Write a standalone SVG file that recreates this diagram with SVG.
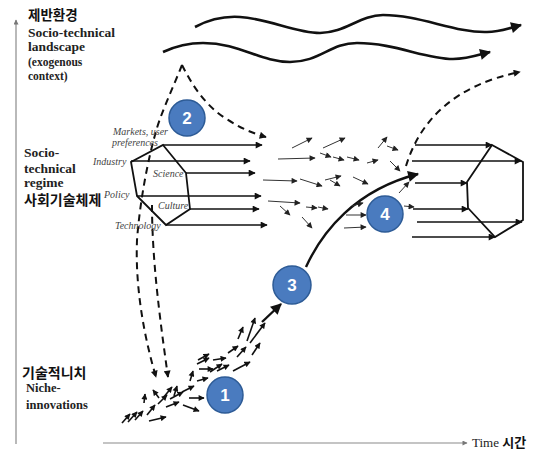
<svg xmlns="http://www.w3.org/2000/svg" width="540" height="454" viewBox="0 0 540 454">
<style>
.ax{stroke:#8a8a8a;stroke-width:1.2;fill:none}
.wave{stroke:#111;stroke-width:2.6;fill:none}
.dash{stroke:#111;stroke-width:2;fill:none;stroke-dasharray:7,5}
.hex{stroke:#111;stroke-width:1.8;fill:none}
.ha{stroke:#111;stroke-width:1.5;fill:none}
.na{stroke:#111;stroke-width:1.6;fill:none}
.ma{stroke:#333;stroke-width:1;fill:none}
.traj{stroke:#111;stroke-width:2.4;fill:none}
.circ{fill:#4a7bbf;stroke:#2d5b96;stroke-width:1.5}
.num{font-family:'Liberation Sans',Arial,sans-serif;font-weight:bold;font-size:17px;fill:#fff;text-anchor:middle}
.en{font-family:'Liberation Serif',serif;font-weight:bold;fill:#222}
.ko{font-family:'Noto Sans CJK KR','Noto Sans',sans-serif;font-weight:bold;fill:#111}
.lb{font-family:'Liberation Serif',serif;font-style:italic;font-size:10px;fill:#444}
</style>
<defs>
<marker id="a" viewBox="0 0 10 10" refX="9" refY="5" markerWidth="7" markerHeight="6" markerUnits="userSpaceOnUse" orient="auto"><path d="M0,0 L10,5 L0,10 z" fill="#111"/></marker>
<marker id="m" viewBox="0 0 10 10" refX="9" refY="5" markerWidth="7" markerHeight="6" markerUnits="userSpaceOnUse" orient="auto"><path d="M0,0 L10,5 L0,10 z" fill="#222"/></marker>
<marker id="b" viewBox="0 0 10 10" refX="9" refY="5" markerWidth="9" markerHeight="7" markerUnits="userSpaceOnUse" orient="auto"><path d="M0,0 L10,5 L0,10 z" fill="#111"/></marker>
<marker id="c" viewBox="0 0 10 10" refX="9" refY="5" markerWidth="13" markerHeight="11" markerUnits="userSpaceOnUse" orient="auto"><path d="M0,0 L10,5 L0,10 z" fill="#111"/></marker>
<marker id="t" viewBox="0 0 10 10" refX="9" refY="5" markerWidth="6" markerHeight="5" markerUnits="userSpaceOnUse" orient="auto"><path d="M0,0 L10,5 L0,10 z" fill="#777"/></marker>
</defs>

<g id="axes">
<path class="ax" d="M16,444 L16,20" marker-end="url(#t)"/>
<path class="ax" d="M103,443 L467,443" marker-end="url(#t)"/>
</g>

<g id="labels">
<text class="ko" x="28" y="20" font-size="13.5">제반환경</text>
<text class="en" x="28" y="37" font-size="13.5">Socio-technical</text>
<text class="en" x="28" y="51" font-size="13.5">landscape</text>
<text class="en" x="28" y="66" font-size="11.5">(exogenous</text>
<text class="en" x="28" y="80" font-size="11.5">context)</text>
<text class="en" x="24" y="157" font-size="13.5">Socio-</text>
<text class="en" x="24" y="173" font-size="13.5">technical</text>
<text class="en" x="24" y="187" font-size="13.5">regime</text>
<text class="ko" x="24" y="205" font-size="14">사회기술체제</text>
<text class="ko" x="22" y="378" font-size="14">기술적니치</text>
<text class="en" x="26" y="392" font-size="12.5">Niche-</text>
<text class="en" x="26" y="409" font-size="12.5">innovations</text>
<text x="472" y="447" font-family="'Liberation Serif',serif" font-size="13" fill="#222">Time <tspan class="ko" font-size="13">시간</tspan></text>
</g>

<g id="landscape">
<path class="wave" d="M195,27 C210,19 225,16 240,17 C270,19 295,33 320,33 C345,33 360,15 383,15 C420,15 455,33 487,32 C500,32 510,28 521,25" marker-end="url(#c)"/>
<path class="wave" d="M163,52 C178,45 190,43 203,43 C240,43 260,62 290,62 C320,62 330,43 357,43 C395,43 425,59 453,59 C468,59 478,55 490,52" marker-end="url(#c)"/>
</g>

<g id="connectors">
<path class="dash" d="M182,65 C192,85 205,105 225,118 C240,128 252,133 266,137" marker-end="url(#b)"/>
<path class="dash" d="M182,65 C172,90 160,115 155,135 C148,160 140,200 137,240 C135,290 145,340 156,377" marker-end="url(#b)"/>
<path class="dash" d="M152,205 C152,260 160,320 168,377" marker-end="url(#b)"/>
<path class="dash" d="M406,166 C420,120 455,85 520,72" marker-end="url(#b)"/>
<path class="traj" d="M306,267 C322,232 355,190 418,174" marker-end="url(#c)"/>
<path class="traj" d="M262,322 L281,304" marker-end="url(#c)"/>
</g>

<g id="regime-old">
<polygon class="hex" points="163,145 186,173 190,209 166,225 137,196 131,162"/>
<path class="ha" d="M163,145 L262,145" marker-end="url(#b)"/>
<path class="ha" d="M131,161 L250,161" marker-end="url(#b)"/>
<path class="ha" d="M186,173 L255,173" marker-end="url(#b)"/>
<path class="ha" d="M137,196 L261,196" marker-end="url(#b)"/>
<path class="ha" d="M190,209 L259,209" marker-end="url(#b)"/>
<path class="ha" d="M166,225 L267,225" marker-end="url(#b)"/>
<text class="lb" x="113" y="135">Markets, user</text>
<text class="lb" x="112" y="146">preferences</text>
<text class="lb" x="93" y="165">Industry</text>
<text class="lb" x="153" y="177">Science</text>
<text class="lb" x="104" y="198">Policy</text>
<text class="lb" x="158" y="209">Culture</text>
<text class="lb" x="115" y="229">Technology</text>
</g>

<g id="regime-new">
<polygon class="hex" points="492,145 523,162 523,220 495,237 468,208 467,182"/>
<path class="ha" d="M415,145 L492,145" marker-end="url(#b)"/>
<path class="ha" d="M412,161 L521,161" marker-end="url(#b)"/>
<path class="ha" d="M415,183 L467,183" marker-end="url(#b)"/>
<path class="ha" d="M413,209 L468,209" marker-end="url(#b)"/>
<path class="ha" d="M417,222 L522,222" marker-end="url(#b)"/>
<path class="ha" d="M412,237 L495,237" marker-end="url(#b)"/>
</g>

<g id="niche-arrows">
<path class="na" d="M122,423 L130,414" marker-end="url(#a)"/>
<path class="na" d="M128,422 L137,412" marker-end="url(#a)"/>
<path class="na" d="M135,420 L143,411" marker-end="url(#a)"/>
<path class="na" d="M149,421 L166,417" marker-end="url(#a)"/>
<path class="na" d="M147,415 L155,405" marker-end="url(#a)"/>
<path class="na" d="M144,403 L145,394" marker-end="url(#a)"/>
<path class="na" d="M159,398 L153,390" marker-end="url(#a)"/>
<path class="na" d="M158,404 L167,395" marker-end="url(#a)"/>
<path class="na" d="M163,398 L172,387" marker-end="url(#a)"/>
<path class="na" d="M166,407 L179,402" marker-end="url(#a)"/>
<path class="na" d="M174,396 L177,386" marker-end="url(#a)"/>
<path class="na" d="M170,399 L183,392" marker-end="url(#a)"/>
<path class="na" d="M182,392 L194,386" marker-end="url(#a)"/>
<path class="na" d="M183,405 L199,411" marker-end="url(#a)"/>
<path class="na" d="M189,398 L204,398" marker-end="url(#a)"/>
<path class="na" d="M190,381 L193,371" marker-end="url(#a)"/>
<path class="na" d="M197,381 L208,378" marker-end="url(#a)"/>
<path class="na" d="M197,364 L209,358" marker-end="url(#a)"/>
<path class="na" d="M199,369 L213,369" marker-end="url(#a)"/>
<path class="na" d="M210,372 L222,364" marker-end="url(#a)"/>
<path class="na" d="M198,360 L209,354" marker-end="url(#a)"/>
<path class="na" d="M213,360 L226,358" marker-end="url(#a)"/>
<path class="na" d="M217,371 L229,365" marker-end="url(#a)"/>
<path class="na" d="M228,353 L238,346" marker-end="url(#a)"/>
<path class="na" d="M233,371 L250,362" marker-end="url(#a)"/>
<path class="na" d="M237,357 L246,347" marker-end="url(#a)"/>
<path class="na" d="M238,339 L243,327" marker-end="url(#a)"/>
<path class="na" d="M247,341 L255,318" marker-end="url(#a)"/>
<path class="na" d="M250,343 L265,323" marker-end="url(#a)"/>
<path class="na" d="M252,355 L260,343" marker-end="url(#a)"/>
</g>

<g id="regime-arrows">
<path class="ma" d="M292,148 L312,138" marker-end="url(#m)"/>
<path class="ma" d="M323,148 L345,138" marker-end="url(#m)"/>
<path class="ma" d="M278,159 L315,158" marker-end="url(#m)"/>
<path class="ma" d="M320,153 L331,157" marker-end="url(#m)"/>
<path class="ma" d="M333,157 L344,160" marker-end="url(#m)"/>
<path class="ma" d="M347,157 L359,160" marker-end="url(#m)"/>
<path class="ma" d="M367,163 L378,160" marker-end="url(#m)"/>
<path class="ma" d="M378,148 L387,137" marker-end="url(#m)"/>
<path class="ma" d="M387,146 L398,150" marker-end="url(#m)"/>
<path class="ma" d="M390,161 L400,171" marker-end="url(#m)"/>
<path class="ma" d="M263,180 L297,181" marker-end="url(#m)"/>
<path class="ma" d="M300,179 L322,186" marker-end="url(#m)"/>
<path class="ma" d="M325,180 L341,176" marker-end="url(#m)"/>
<path class="ma" d="M330,180 L340,186" marker-end="url(#m)"/>
<path class="ma" d="M353,177 L368,184" marker-end="url(#m)"/>
<path class="ma" d="M268,201 L300,203" marker-end="url(#m)"/>
<path class="ma" d="M280,206 L290,215" marker-end="url(#m)"/>
<path class="ma" d="M306,207 L317,208" marker-end="url(#m)"/>
<path class="ma" d="M318,207 L328,209" marker-end="url(#m)"/>
<path class="ma" d="M302,217 L312,228" marker-end="url(#m)"/>
<path class="ma" d="M352,206 L363,203" marker-end="url(#m)"/>
<path class="ma" d="M346,215 L366,215" marker-end="url(#m)"/>
<path class="ma" d="M344,228 L366,227" marker-end="url(#m)"/>
<path class="ma" d="M399,193 L409,182" marker-end="url(#m)"/>
<path class="ma" d="M404,206 L414,207" marker-end="url(#m)"/>
</g>

<g id="n1"><circle class="circ" cx="225" cy="395" r="18"/><text class="num" x="225" y="401">1</text></g>
<g id="n2"><circle class="circ" cx="187" cy="118" r="18"/><text class="num" x="187" y="124">2</text></g>
<g id="n3"><circle class="circ" cx="292" cy="285" r="19"/><text class="num" x="292" y="291">3</text></g>
<g id="n4"><circle class="circ" cx="385" cy="214" r="18"/><text class="num" x="385" y="220">4</text></g>
</svg>
